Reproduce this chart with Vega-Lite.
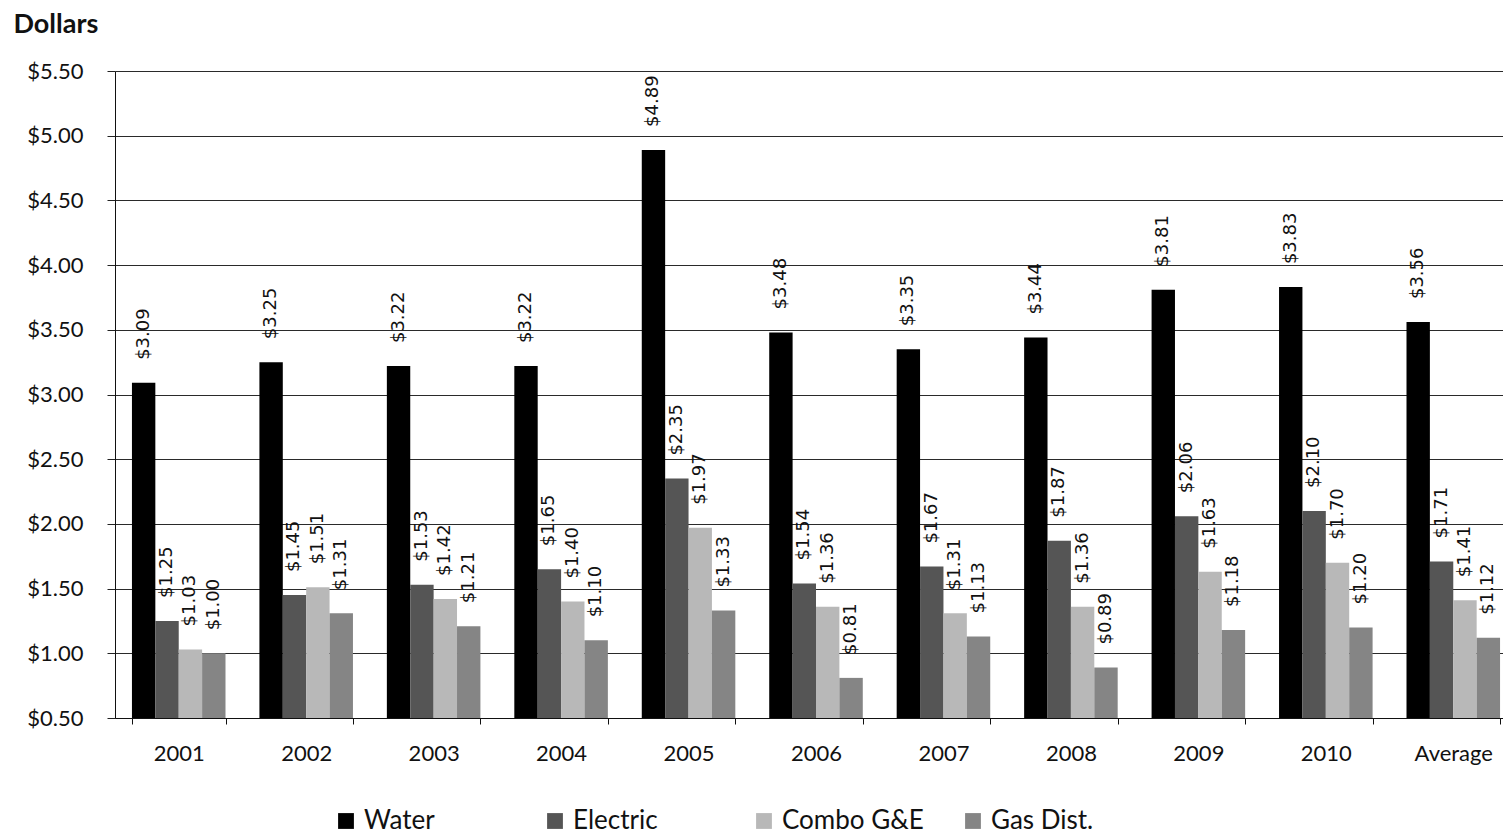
{
  "$schema": "https://vega.github.io/schema/vega-lite/v6.json",
  "width": 1402,
  "height": 647,
  "autosize": {"type": "none"},
  "padding": {"left": 115, "top": 71, "right": 0, "bottom": 120},
  "background": "white",
  "config": {"view": {"stroke": null}, "font": "Lato"},
  "data": {
    "values": [
      {"period": "2001", "utility": "Water", "cost": 3.09},
      {"period": "2001", "utility": "Electric", "cost": 1.25},
      {"period": "2001", "utility": "Combo G&E", "cost": 1.03},
      {"period": "2001", "utility": "Gas Dist.", "cost": 1.00},
      {"period": "2002", "utility": "Water", "cost": 3.25},
      {"period": "2002", "utility": "Electric", "cost": 1.45},
      {"period": "2002", "utility": "Combo G&E", "cost": 1.51},
      {"period": "2002", "utility": "Gas Dist.", "cost": 1.31},
      {"period": "2003", "utility": "Water", "cost": 3.22},
      {"period": "2003", "utility": "Electric", "cost": 1.53},
      {"period": "2003", "utility": "Combo G&E", "cost": 1.42},
      {"period": "2003", "utility": "Gas Dist.", "cost": 1.21},
      {"period": "2004", "utility": "Water", "cost": 3.22},
      {"period": "2004", "utility": "Electric", "cost": 1.65},
      {"period": "2004", "utility": "Combo G&E", "cost": 1.40},
      {"period": "2004", "utility": "Gas Dist.", "cost": 1.10},
      {"period": "2005", "utility": "Water", "cost": 4.89},
      {"period": "2005", "utility": "Electric", "cost": 2.35},
      {"period": "2005", "utility": "Combo G&E", "cost": 1.97},
      {"period": "2005", "utility": "Gas Dist.", "cost": 1.33},
      {"period": "2006", "utility": "Water", "cost": 3.48},
      {"period": "2006", "utility": "Electric", "cost": 1.54},
      {"period": "2006", "utility": "Combo G&E", "cost": 1.36},
      {"period": "2006", "utility": "Gas Dist.", "cost": 0.81},
      {"period": "2007", "utility": "Water", "cost": 3.35},
      {"period": "2007", "utility": "Electric", "cost": 1.67},
      {"period": "2007", "utility": "Combo G&E", "cost": 1.31},
      {"period": "2007", "utility": "Gas Dist.", "cost": 1.13},
      {"period": "2008", "utility": "Water", "cost": 3.44},
      {"period": "2008", "utility": "Electric", "cost": 1.87},
      {"period": "2008", "utility": "Combo G&E", "cost": 1.36},
      {"period": "2008", "utility": "Gas Dist.", "cost": 0.89},
      {"period": "2009", "utility": "Water", "cost": 3.81},
      {"period": "2009", "utility": "Electric", "cost": 2.06},
      {"period": "2009", "utility": "Combo G&E", "cost": 1.63},
      {"period": "2009", "utility": "Gas Dist.", "cost": 1.18},
      {"period": "2010", "utility": "Water", "cost": 3.83},
      {"period": "2010", "utility": "Electric", "cost": 2.10},
      {"period": "2010", "utility": "Combo G&E", "cost": 1.70},
      {"period": "2010", "utility": "Gas Dist.", "cost": 1.20},
      {"period": "Average", "utility": "Water", "cost": 3.56},
      {"period": "Average", "utility": "Electric", "cost": 1.71},
      {"period": "Average", "utility": "Combo G&E", "cost": 1.41},
      {"period": "Average", "utility": "Gas Dist.", "cost": 1.12}
    ]
  },
  "encoding": {
    "x": {
      "field": "period",
      "type": "nominal",
      "sort": null,
      "scale": {"paddingInner": 0.266, "paddingOuter": 0.133},
      "axis": {
        "title": null,
        "labelAngle": 0,
        "labelFontSize": 22,
        "labelColor": "#111",
        "labelPadding": 19,
        "tickBand": "extent",
        "tickSize": 6,
        "tickColor": "#111",
        "domainColor": "#111",
        "grid": false
      }
    },
    "xOffset": {
      "field": "utility",
      "sort": ["Water", "Electric", "Combo G&E", "Gas Dist."],
      "scale": {"paddingInner": 0, "paddingOuter": 0}
    },
    "y": {
      "field": "cost",
      "type": "quantitative",
      "scale": {"domain": [0.5, 5.5], "zero": false, "nice": false},
      "axis": {
        "values": [0.5, 1, 1.5, 2, 2.5, 3, 3.5, 4, 4.5, 5, 5.5],
        "format": "$.2f",
        "labelFontSize": 22,
        "labelColor": "#111",
        "labelPadding": 24,
        "tickSize": 8,
        "tickColor": "#222",
        "domainColor": "#111",
        "gridColor": "#2a2a2a",
        "gridOpacity": 1,
        "title": "Dollars",
        "titleAngle": 0,
        "titleX": -102,
        "titleY": -47,
        "titleAlign": "left",
        "titleBaseline": "middle",
        "titleFontSize": 27,
        "titleFontWeight": "bold",
        "titleColor": "#111"
      }
    }
  },
  "layer": [
    {
      "mark": {"type": "bar"},
      "encoding": {
        "y2": {"datum": 0.5},
        "color": {
          "field": "utility",
          "type": "nominal",
          "sort": ["Water", "Electric", "Combo G&E", "Gas Dist."],
          "scale": {
            "domain": ["Water", "Electric", "Combo G&E", "Gas Dist."],
            "range": ["#000000", "#555555", "#b8b8b8", "#858585"]
          },
          "legend": {
            "title": null,
            "orient": "none",
            "legendX": 218,
            "legendY": 737,
            "direction": "horizontal",
            "columns": 4,
            "gridAlign": "all",
            "columnPadding": 36,
            "symbolType": "square",
            "symbolSize": 250,
            "symbolStrokeWidth": 0,
            "labelFontSize": 26,
            "labelColor": "#111",
            "labelOffset": 5,
            "labelLimit": 300
          }
        }
      }
    },
    {
      "mark": {
        "type": "text",
        "angle": -90,
        "align": "left",
        "baseline": "middle",
        "dx": 23,
        "font": "DejaVu Sans",
        "fontSize": 18,
        "color": "#111"
      },
      "encoding": {
        "text": {"field": "cost", "type": "quantitative", "format": "$.2f"}
      }
    }
  ]
}
